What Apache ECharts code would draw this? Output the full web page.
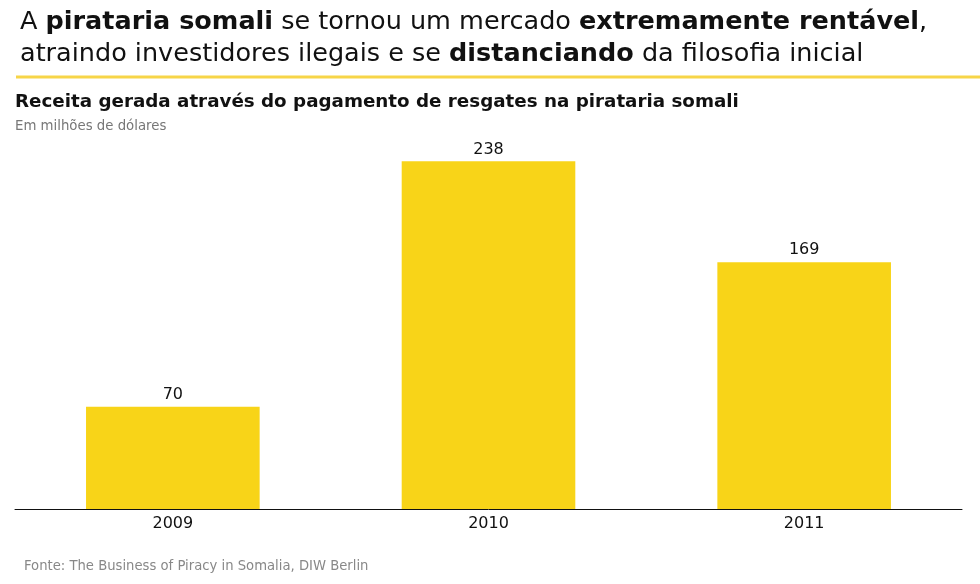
<!DOCTYPE html>
<html><head><meta charset="utf-8">
<script src="https://cdn.jsdelivr.net/npm/echarts@6/dist/echarts.min.js"></script>
<style>html,body{margin:0;padding:0;background:#fff}#c{width:980px;height:584px}</style>
</head><body><div id="c"></div>
<script>
const categories = ['2009', '2010', '2011'];
const values = [70, 238, 169];

const FONT = '"DejaVu Sans", sans-serif';
const chart = echarts.init(document.getElementById('c'));
chart.setOption({
  backgroundColor: '#fff',
  animation: false,
  title: [
    {
      left: 15, top: 1,
      text: 'A {b|pirataria somali} se tornou um mercado {b|extremamente rentável},\natraindo investidores ilegais e se {b|distanciando} da filosofia inicial',
      textStyle: {
        fontFamily: FONT, fontSize: 25.5, fontWeight: 'normal', color: '#111', lineHeight: 32,
        rich: { b: { fontFamily: FONT, fontSize: 25.5, fontWeight: 'bold', color: '#111', lineHeight: 32 } }
      }
    },
    {
      left: 10, top: 88,
      text: 'Receita gerada através do pagamento de resgates na pirataria somali',
      textStyle: { fontFamily: FONT, fontSize: 18.3, fontWeight: 'bold', color: '#111' }
    },
    {
      left: 10, top: 115,
      text: 'Em milhões de dólares',
      textStyle: { fontFamily: FONT, fontSize: 13.3, fontWeight: 'normal', color: '#777' }
    },
    {
      left: 19, top: 555,
      text: 'Fonte: The Business of Piracy in Somalia, DIW Berlin',
      textStyle: { fontFamily: FONT, fontSize: 13.2, fontWeight: 'normal', color: '#888' }
    }
  ],
  graphic: [
    { type: 'rect', shape: { x: 16, y: 75.5, width: 964, height: 3 }, style: { fill: '#F7D548' } }
  ],
  grid: { left: 15, right: 18, top: 100, bottom: 75, containLabel: false },
  xAxis: {
    type: 'category', data: categories,
    axisLine: { lineStyle: { color: '#111', width: 1 } },
    axisTick: { show: false },
    axisLabel: { fontFamily: FONT, fontSize: 16, color: '#111', margin: 7 }
  },
  yAxis: {
    type: 'value', min: 0, max: 280, show: false, splitLine: { show: false }
  },
  series: [{
    type: 'bar', data: values, barWidth: '55%',
    itemStyle: { color: '#F8D418' },
    label: { show: true, position: 'top', distance: 4, fontFamily: FONT, fontSize: 16, color: '#111' }
  }]
});
</script></body></html>
